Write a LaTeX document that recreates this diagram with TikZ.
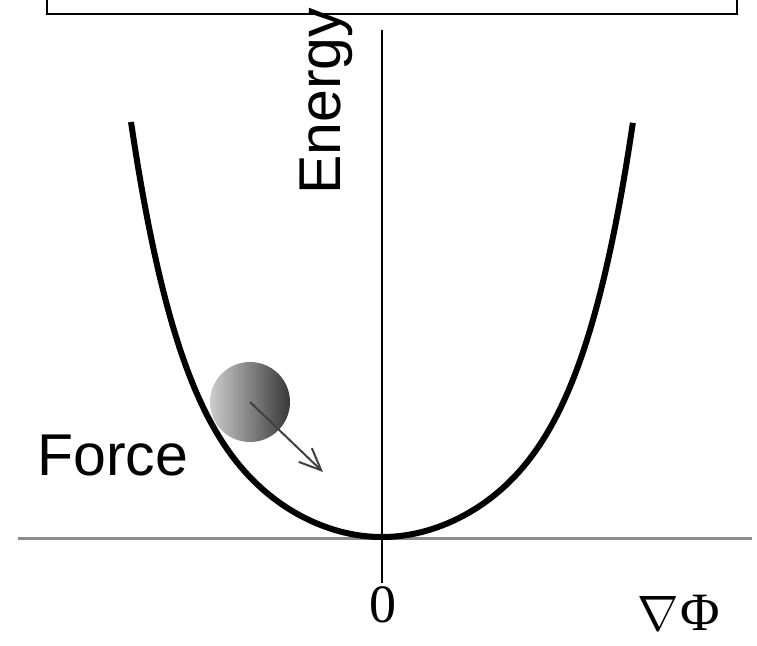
\documentclass[tikz,border=0pt]{standalone}
\usepackage{amsmath}
\usepackage{fontspec}
\setmainfont{Liberation Serif}
\newfontfamily\labelfont{Liberation Sans}
\usetikzlibrary{positioning,arrows.meta}

\begin{document}
\begin{tikzpicture}[
    x=0.5pt, y=-0.5pt,
    >=Latex,
    frame/.style={draw=black, line width=1pt},
    haxis/.style={draw=black!45, line width=1.5pt},
    vaxis/.style={draw=black, line width=0.9pt},
    well/.style={draw=black, line width=3pt},
    lab/.style={inner sep=0pt, font=\labelfont\fontsize{29.5}{32}\selectfont},
    num/.style={inner sep=0pt, font=\fontsize{27}{30}\selectfont},
    ball/.style={circle, minimum size=40pt, inner sep=0pt, shading=axis,
      left color=black!20, right color=black!78},
    force/.style={-{Straight Barb[length=11pt, width=9.5pt]}, draw=black!75, line width=1pt}
  ]
    \clip (0,0) rectangle (757,645);
    \useasboundingbox (0,0) rectangle (757,645);

    \draw[frame] (47,-10) rectangle (737,14);

    \draw[haxis] (18,538) -- (752,538);
    \draw[vaxis] (382,30) -- (382,583);
    \draw[well] plot[domain=-1:1, samples=121, smooth]
      ({382+251*\x}, {537-200*\x*\x-215*(\x*\x)^3});

    \node[lab, rotate=90, anchor=base west] (energy) at (340,195) {Energy};
    \node[lab, anchor=base west] (forcelab) at (37,475) {Force};
    \node[num, anchor=base] (zero) at (383,622) {0};
    \node[num, anchor=base west] (gradphi) at (637,630) {$\nabla$\kern1pt Φ};

    \node[ball] (ball) at (250,402) {};
    \coordinate (push) at (323,472);
    \draw[force] (ball.center) -- (push);
  \end{tikzpicture}
\end{document}
